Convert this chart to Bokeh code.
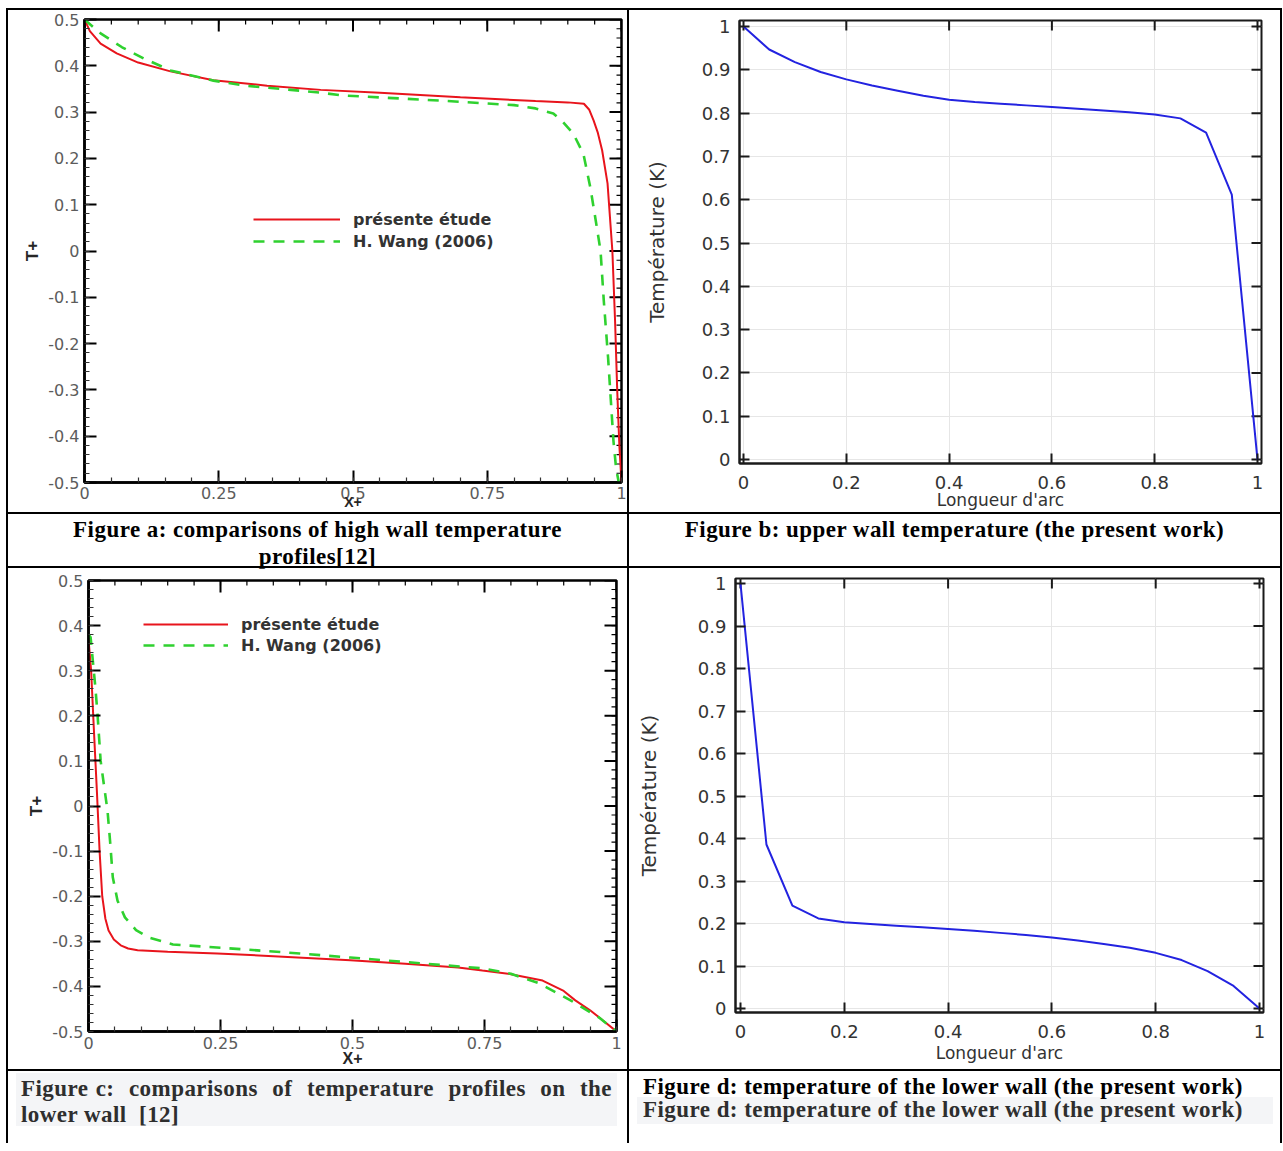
import math
from bokeh.plotting import figure
from bokeh.models import Range1d, FixedTicker, Legend, LegendItem, Div
from bokeh.layouts import row, column
from bokeh.embed import file_html
from bokeh.resources import INLINE

# ---------------- data ----------------
# Figure a (upper wall, Tecplot comparison)
a_present_x = [0.0, 0.01, 0.03, 0.06, 0.1, 0.16, 0.24, 0.34, 0.44, 0.55, 0.7, 0.84, 0.9, 0.93, 0.94, 0.948, 0.956, 0.964, 0.974, 0.983, 0.988, 0.992, 0.996, 1.0]
a_present_t = [0.5, 0.475, 0.448, 0.427, 0.407, 0.388, 0.369, 0.357, 0.348, 0.342, 0.332, 0.324, 0.321, 0.318, 0.305, 0.282, 0.255, 0.217, 0.146, 0.0, -0.15, -0.3, -0.42, -0.5]
a_wang_x = [0.0, 0.03, 0.07, 0.11, 0.16, 0.24, 0.3, 0.44, 0.48, 0.66, 0.8, 0.84, 0.873, 0.89, 0.91, 0.929, 0.942, 0.952, 0.961, 0.967, 0.975, 0.98, 0.985, 0.99, 0.995]
a_wang_t = [0.5, 0.47, 0.44, 0.416, 0.39, 0.368, 0.357, 0.342, 0.336, 0.325, 0.315, 0.308, 0.297, 0.28, 0.254, 0.21, 0.137, 0.066, 0.0, -0.107, -0.23, -0.32, -0.41, -0.47, -0.5]

# Figure c (lower wall, Tecplot comparison)
c_present_x = [0.0, 0.005, 0.01, 0.016, 0.021, 0.026, 0.032, 0.038, 0.048, 0.061, 0.075, 0.093, 0.15, 0.244, 0.35, 0.496, 0.6, 0.7, 0.746, 0.8, 0.86, 0.9, 0.922, 0.95, 0.975, 1.0]
c_present_t = [0.37, 0.3, 0.174, 0.03, -0.1, -0.2, -0.25, -0.276, -0.296, -0.309, -0.316, -0.32, -0.323, -0.327, -0.333, -0.342, -0.35, -0.358, -0.365, -0.373, -0.387, -0.41, -0.431, -0.453, -0.476, -0.5]
c_wang_x = [0.0, 0.004, 0.013, 0.017, 0.023, 0.03, 0.036, 0.041, 0.046, 0.055, 0.069, 0.09, 0.115, 0.16, 0.26, 0.4, 0.496, 0.632, 0.746, 0.8, 0.853, 0.913, 0.967, 1.0]
c_wang_t = [0.38, 0.374, 0.263, 0.205, 0.1, 0.04, -0.01, -0.08, -0.158, -0.21, -0.247, -0.275, -0.292, -0.307, -0.315, -0.327, -0.336, -0.349, -0.36, -0.372, -0.393, -0.431, -0.469, -0.5]

# Figure b and d (COMSOL, present work)
arc_x = [0.0, 0.05, 0.1, 0.15, 0.2, 0.25, 0.3, 0.35, 0.4, 0.45, 0.5, 0.55, 0.6, 0.65, 0.7, 0.75, 0.8, 0.85, 0.9, 0.95, 1.0]
b_temp = [1.0, 0.947, 0.918, 0.895, 0.878, 0.864, 0.852, 0.84, 0.831, 0.826, 0.822, 0.818, 0.814, 0.81, 0.806, 0.802, 0.797, 0.788, 0.755, 0.612, 0.0]
d_temp = [1.0, 0.386, 0.242, 0.212, 0.203, 0.199, 0.195, 0.191, 0.187, 0.183, 0.178, 0.173, 0.167, 0.16, 0.152, 0.143, 0.131, 0.114, 0.088, 0.053, 0.0]

# ticks / labels
tec_x_ticks = [0, 0.25, 0.5, 0.75, 1]
tec_x_labels = ["0", "0.25", "0.5", "0.75", "1"]
tec_y_ticks = [-0.5, -0.4, -0.3, -0.2, -0.1, 0, 0.1, 0.2, 0.3, 0.4, 0.5]
tec_y_labels = ["-0.5", "-0.4", "-0.3", "-0.2", "-0.1", "0", "0.1", "0.2", "0.3", "0.4", "0.5"]
com_x_ticks = [0, 0.2, 0.4, 0.6, 0.8, 1]
com_x_labels = ["0", "0.2", "0.4", "0.6", "0.8", "1"]
com_y_ticks = [0, 0.1, 0.2, 0.3, 0.4, 0.5, 0.6, 0.7, 0.8, 0.9, 1]
com_y_labels = ["0", "0.1", "0.2", "0.3", "0.4", "0.5", "0.6", "0.7", "0.8", "0.9", "1"]

legend_labels = ["présente étude", "H. Wang (2006)"]
axis_titles = {"tec_x": "X+", "tec_y": "T+", "com_x": "Longueur d'arc", "com_y": "Température (K)"}
captions = {
    "a": ["Figure a: comparisons of high wall temperature", "profiles[12]"],
    "b": "Figure b: upper wall temperature (the present work)",
    "c": ["Figure c:  comparisons  of  temperature  profiles  on  the", "lower wall&nbsp; [12]"],
    "d": "Figure d: temperature of the lower wall (the present work)",
}

RED = "#e8141c"
GREEN = "#2fd12f"
BLUE = "#2323e0"
TEC_FONT = "DejaVu Sans"
COM_FONT = "DejaVu Sans"


def style_tec_axis(ax, ticks, labels, minor, standoff):
    ax.ticker = FixedTicker(ticks=ticks, minor_ticks=minor)
    ax.axis_line_color = "black"
    ax.axis_line_width = 2.5
    ax.major_tick_in = 12
    ax.major_tick_out = 0
    ax.minor_tick_in = 5
    ax.minor_tick_out = 0
    ax.major_tick_line_width = 2
    ax.minor_tick_line_width = 1.2
    ax.major_tick_line_color = "black"
    ax.minor_tick_line_color = "#333333"
    ax.major_label_overrides = dict(zip(ticks, labels))
    ax.major_label_text_font = TEC_FONT
    ax.major_label_text_font_size = "16px"
    ax.major_label_text_color = "#5c5c5c"
    ax.major_label_standoff = standoff


def mirror_ticks(p, xticks, yticks, xtop, yright, major_len, width, color,
                 xminor=None, yminor=None, minor_len=0):
    # ticks on the top and right frame edges, drawn as dashes centred on the edge
    # (the outer half is clipped away by the frame)
    p.scatter(xticks, [xtop] * len(xticks), marker="dash", size=2 * major_len,
              angle=math.pi / 2, line_color=color, line_width=width)
    p.scatter([yright] * len(yticks), yticks, marker="dash", size=2 * major_len,
              line_color=color, line_width=width)
    if xminor:
        p.scatter(xminor, [xtop] * len(xminor), marker="dash", size=2 * minor_len,
                  angle=math.pi / 2, line_color=color, line_width=1.2)
    if yminor:
        p.scatter([yright] * len(yminor), yminor, marker="dash", size=2 * minor_len,
                  line_color=color, line_width=1.2)


def tecplot(width, height, borders, px, pt, wx, wt, legend_xy, legend_spacing, glyph_w,
            xtick_standoff, xplus_standoff, xplus_size):
    l, r, t, b = borders
    p = figure(width=width, height=height, x_range=Range1d(0, 1), y_range=Range1d(-0.5, 0.5),
               output_backend="svg", toolbar_location=None,
               min_border_left=l, min_border_right=r, min_border_top=t, min_border_bottom=b)
    p.grid.visible = False
    p.outline_line_color = "black"
    p.outline_line_width = 2.5
    p.outline_line_alpha = 1
    p.background_fill_color = "white"
    p.border_fill_color = "white"
    xminor = [i * 0.05 for i in range(21)]
    yminor = [-0.5 + i * 0.02 for i in range(51)]
    xax = p.xaxis[0]
    yax = p.yaxis[0]
    style_tec_axis(xax, tec_x_ticks, tec_x_labels, xminor, xtick_standoff)
    style_tec_axis(yax, tec_y_ticks, tec_y_labels, yminor, 5)
    mirror_ticks(p, tec_x_ticks, tec_y_ticks, 0.5, 1.0, 12, 2, "black", xminor, yminor, 5)
    yax.axis_label = axis_titles["tec_y"]
    yax.axis_label_text_font_size = "17px"
    yax.axis_label_standoff = 3
    xax.axis_label = axis_titles["tec_x"]
    xax.axis_label_text_font_size = xplus_size
    xax.axis_label_standoff = xplus_standoff
    for ax in (xax, yax):
        ax.axis_label_text_font = "Liberation Sans"
        ax.axis_label_text_font_style = "bold"
        ax.axis_label_text_color = "#262626"

    r1 = p.line(px, pt, line_color=RED, line_width=2)
    r2 = p.line(wx, wt, line_color=GREEN, line_width=2.6, line_dash="11 9")
    leg = Legend(items=[LegendItem(label=legend_labels[0], renderers=[r1]),
                        LegendItem(label=legend_labels[1], renderers=[r2])],
                 location=legend_xy, glyph_width=glyph_w, glyph_height=20, label_height=20,
                 label_standoff=13, spacing=legend_spacing, padding=0, margin=0,
                 border_line_color=None, background_fill_alpha=0,
                 label_text_font="DejaVu Sans", label_text_font_style="bold",
                 label_text_font_size="16px", label_text_color="#333333")
    p.add_layout(leg)
    return p


def style_com_axis(ax, ticks, labels, standoff):
    ax.ticker = FixedTicker(ticks=ticks, minor_ticks=[])
    ax.axis_line_color = "#1a1a1a"
    ax.axis_line_width = 2
    ax.major_tick_in = 10
    ax.major_tick_out = 0
    ax.minor_tick_in = 0
    ax.minor_tick_out = 0
    ax.major_tick_line_width = 2
    ax.major_tick_line_color = "#1a1a1a"
    ax.major_label_overrides = dict(zip(ticks, labels))
    ax.major_label_text_font = COM_FONT
    ax.major_label_text_font_size = "18px"
    ax.major_label_text_color = "#333333"
    ax.major_label_standoff = standoff


def comsol(width, height, borders, xr, yr, temp, ylab_standoff, xlab_standoff):
    l, r, t, b = borders
    p = figure(width=width, height=height, x_range=Range1d(*xr), y_range=Range1d(*yr),
               output_backend="svg", toolbar_location=None,
               min_border_left=l, min_border_right=r, min_border_top=t, min_border_bottom=b)
    p.outline_line_color = "#1a1a1a"
    p.outline_line_width = 2
    p.outline_line_alpha = 1
    p.background_fill_color = "white"
    p.border_fill_color = "white"
    xax = p.xaxis[0]
    yax = p.yaxis[0]
    style_com_axis(xax, com_x_ticks, com_x_labels, 12)
    style_com_axis(yax, com_y_ticks, com_y_labels, 9)
    p.xgrid.ticker = FixedTicker(ticks=com_x_ticks)
    p.ygrid.ticker = FixedTicker(ticks=com_y_ticks)
    p.grid.grid_line_color = "#e6e6e6"
    p.grid.grid_line_width = 1
    mirror_ticks(p, com_x_ticks, com_y_ticks, yr[1], xr[1], 10, 2, "#1a1a1a")
    xax.axis_label = axis_titles["com_x"]
    yax.axis_label = axis_titles["com_y"]
    for ax in (xax, yax):
        ax.axis_label_text_font = COM_FONT
        ax.axis_label_text_font_style = "normal"
        ax.axis_label_text_color = "#333333"
    xax.axis_label_text_font_size = "17px"
    yax.axis_label_text_font_size = "20px"
    xax.axis_label_standoff = xlab_standoff
    yax.axis_label_standoff = ylab_standoff
    p.line(arc_x, temp, line_color=BLUE, line_width=2)
    return p


# cells: left column x 8..627 (619 wide), right column x 629..1280 (651 wide)
fa = tecplot(619, 502, (76, 6, 9, 30), a_present_x, a_present_t, a_wang_x, a_wang_t,
             (169, 231), 2, 87, 4, -8, "14px")
fb = comsol(651, 502, (110, 19, 10, 49), (-0.0078, 1.0078), (-0.009, 1.014), b_temp, 30, -2)
fc = tecplot(619, 501, (80, 11, 12, 38), c_present_x, c_present_t, c_wang_x, c_wang_t,
             (55, 376), 1, 85, 5, -2, "16px")
fd = comsol(651, 501, (106, 17, 10, 57), (-0.0096, 1.0077), (-0.0094, 1.012), d_temp, 34, 2)

SERIF = ("font-family:'Liberation Serif','Times New Roman',serif;font-weight:bold;"
         "font-size:23px;letter-spacing:0.45px;")

cap_a = Div(text=f'<div style="{SERIF}line-height:27px;text-align:center;color:#000;width:619px;padding-top:2px">'
                 f'{captions["a"][0]}<br>{captions["a"][1]}</div>', width=619, height=52, margin=0)
cap_b = Div(text=f'<div style="{SERIF}line-height:27px;text-align:center;color:#000;width:651px;padding-top:2px">'
                 f'{captions["b"]}</div>', width=651, height=52, margin=0)
cap_c = Div(text=f'<div style="{SERIF}line-height:26px;color:#2e2e2e;margin:2px 0 0 8px;width:601px;height:53px;'
                 f'background:#f4f5f7;padding:3px 5px 0 5px;box-sizing:border-box;white-space:pre-wrap">'
                 f'<div style="text-align:justify;text-align-last:justify">{captions["c"][0]}</div>'
                 f'<div style="text-align:left">{captions["c"][1]}</div></div>', width=619, height=72, margin=0)
cap_d = Div(text=f'<div style="{SERIF}line-height:26px;">'
                 f'<div style="color:#000;padding:3px 0 0 14px;height:26px">{captions["d"]}</div>'
                 f'<div style="color:#2e2e2e;background:#f4f5f7;margin-left:8px;width:636px;height:27px;padding-left:6px;box-sizing:border-box">{captions["d"]}</div>'
                 f'</div>', width=651, height=72, margin=0)


def vl(h):
    return Div(text="", width=2, height=h, margin=0, styles={"background-color": "#000"})


def hl():
    return Div(text="", width=1276, height=2, margin=0, styles={"background-color": "#000"})


def cell(fig):
    # wrap each plot on its own so that neighbouring plots do not align their frames
    return column(fig, spacing=0, margin=0)


layout = column(
    hl(),
    row(vl(502), cell(fa), vl(502), cell(fb), vl(502), spacing=0),
    hl(),
    row(vl(52), cap_a, vl(52), cap_b, vl(52), spacing=0),
    hl(),
    row(vl(501), cell(fc), vl(501), cell(fd), vl(501), spacing=0),
    hl(),
    row(vl(72), cap_c, vl(72), cap_d, vl(72), spacing=0),
    spacing=0,
    margin=(8, 0, 0, 6),
)

open("out.html", "w").write(file_html(layout, INLINE))
